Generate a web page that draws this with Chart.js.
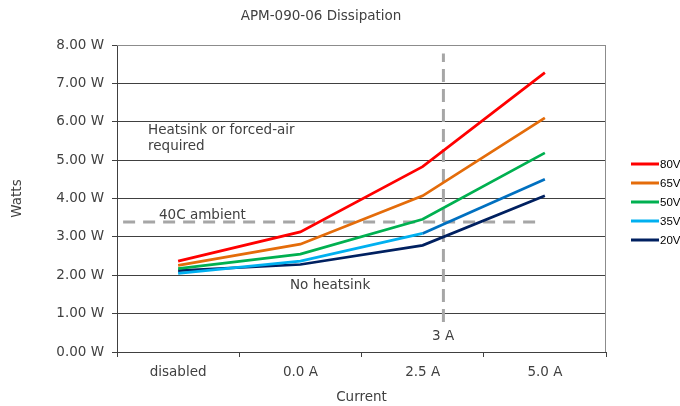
<!DOCTYPE html>
<html><head><meta charset="utf-8">
<script src="https://cdn.jsdelivr.net/npm/chart.js@4/dist/chart.umd.min.js"></script>
<style>html,body{margin:0;padding:0;background:#fff}#wrap{width:680px;height:406px;position:relative}</style>
</head><body><div id="wrap"><canvas id="c"></canvas></div>
<script>
// ---- data ----
const categories = ['disabled', '0.0 A', '2.5 A', '5.0 A'];
const seriesLabels = ['80V', '65V', '50V', '35V', '20V'];
const v80 = [2.37, 3.13, 4.83, 7.28];
const v65 = [2.26, 2.81, 4.07, 6.10];
const v50 = [2.17, 2.55, 3.46, 5.19];
const v35 = [2.05, 2.37, 3.09, 4.50];
const v20 = [2.12, 2.28, 2.78, 4.07];
const yTicks = [0, 1, 2, 3, 4, 5, 6, 7, 8];
// reference lines (x in category-index units)
const ambientLine = [{x: -0.45, y: 3.39}, {x: 2.98, y: 3.39}];
const currentLimitLine = [{x: 2.17, y: 0.78}, {x: 2.17, y: 7.78}];
const notes = [
  {text: 'Heatsink or forced-air', x: 148, y: 130},
  {text: 'required', x: 148, y: 146.5},
  {text: '40C ambient', x: 159, y: 215},
  {text: 'No heatsink', x: 290, y: 285},
  {text: '3 A', x: 432, y: 336.5}
];

const FONT = '"DejaVu Sans", Verdana, sans-serif';
const TXT = '#404040';
const colors = ['#FF0000', '#E46C0A', '#00B050', '#00B0F0', '#002060'];
const seriesData = [v80, v65, v50, v35, v20];

const datasets = seriesData.map((d, i) => ({
  label: seriesLabels[i],
  data: d,
  borderColor: colors[i],
  backgroundColor: colors[i],
  borderWidth: 2.75,
  pointRadius: 0,
  tension: 0,
  fill: false,
  order: i + 1,
  segment: i === 3 ? {borderColor: c => c.p1DataIndex === 3 ? '#0070C0' : undefined} : undefined
}));
datasets.push({
  label: '_ambient', data: ambientLine, xAxisID: 'x2', borderColor: '#A6A6A6',
  borderWidth: 3, borderDash: [12, 8], pointRadius: 0, fill: false, order: 20, isRef: true
});
datasets.push({
  label: '_limit', data: currentLimitLine, xAxisID: 'x2', borderColor: '#A6A6A6',
  borderWidth: 3, borderDash: [13, 7], pointRadius: 0, fill: false, order: 21, isRef: true
});

const decor = {
  id: 'decor',
  beforeDatasetsDraw(chart) {
    const {ctx, chartArea: a} = chart;
    ctx.save();
    ctx.strokeStyle = '#8C8C8C';
    ctx.lineWidth = 1;
    ctx.beginPath();
    ctx.moveTo(a.left, a.top + 0.5); ctx.lineTo(a.right, a.top + 0.5);
    ctx.moveTo(a.right - 0.5, a.top); ctx.lineTo(a.right - 0.5, a.bottom);
    ctx.stroke();
    ctx.restore();
  },
  afterDraw(chart) {
    const {ctx} = chart;
    ctx.save();
    // title
    ctx.fillStyle = TXT;
    ctx.font = '13.5px ' + FONT;
    ctx.textAlign = 'center';
    ctx.textBaseline = 'middle';
    ctx.fillText('APM-090-06 Dissipation', 321, 16);
    // notes
    ctx.textAlign = 'left';
    ctx.font = '13.5px ' + FONT;
    notes.forEach(n => ctx.fillText(n.text, n.x, n.y));
    // legend
    ctx.font = '11.5px "Liberation Sans", Arial, sans-serif';
    ctx.fillStyle = '#000';
    chart.data.datasets.filter(d => !d.isRef).forEach((d, i) => {
      const y = 164 + i * 19;
      ctx.strokeStyle = d.borderColor;
      ctx.lineWidth = 3;
      ctx.beginPath(); ctx.moveTo(631, y); ctx.lineTo(659, y); ctx.stroke();
      ctx.fillText(d.label, 660, y + 0.5);
    });
    ctx.restore();
  }
};

new Chart(document.getElementById('c'), {
  type: 'line',
  data: {labels: categories, datasets},
  plugins: [decor],
  options: {
    responsive: true,
    maintainAspectRatio: false,
    animation: false,
    devicePixelRatio: 1,
    layout: {padding: {top: 45, right: 74, bottom: 0, left: 0}},
    plugins: {legend: {display: false}, title: {display: false}, tooltip: {enabled: false}},
    scales: {
      x: {
        type: 'category',
        offset: true,
        grid: {offset: true, drawOnChartArea: false, drawTicks: true, tickLength: 5, color: '#404040'},
        border: {color: '#404040', width: 1},
        ticks: {color: TXT, font: {family: FONT, size: 13.5}, padding: 7, maxRotation: 0},
        title: {display: true, text: 'Current', color: TXT, font: {family: FONT, size: 13.5}, padding: {top: 0, bottom: 0}},
        afterFit: s => { s.height = 54; }
      },
      x2: {
        type: 'linear', display: false, min: -0.5, max: 3.5
      },
      y: {
        min: 0, max: 8,
        afterBuildTicks: s => { s.ticks = yTicks.map(v => ({value: v})); },
        grid: {color: '#404040', lineWidth: 1, tickLength: 5, drawTicks: true},
        border: {color: '#404040', width: 1},
        ticks: {color: TXT, font: {family: FONT, size: 13.5}, padding: 8,
          callback: v => v.toFixed(2) + ' W'},
        title: {display: true, text: 'Watts', color: TXT, font: {family: FONT, size: 13.5}, padding: {top: 9, bottom: 0}},
        afterFit: s => { s.width = 117; }
      }
    }
  }
});
</script></body></html>
